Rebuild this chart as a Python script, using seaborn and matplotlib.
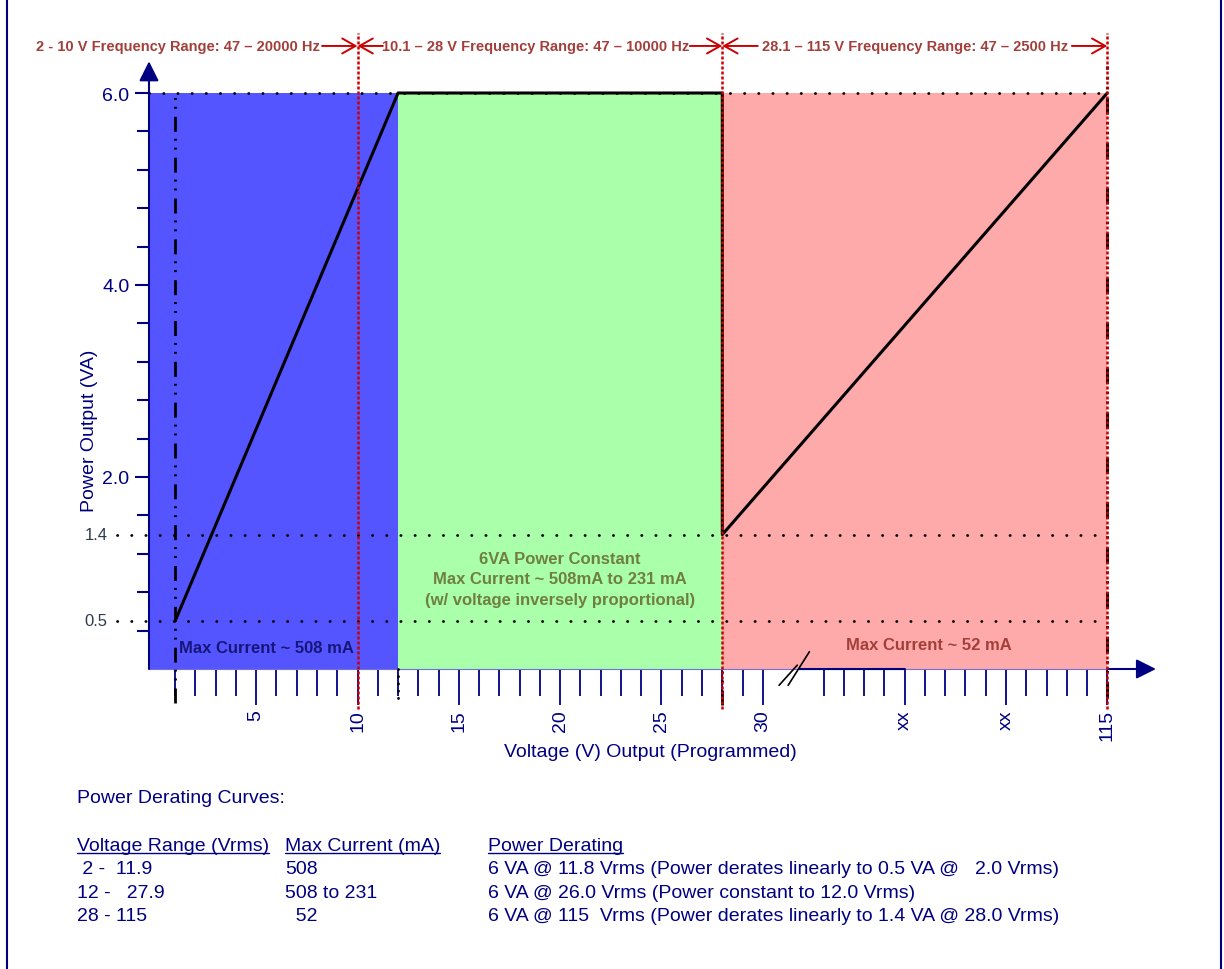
"""Power derating curves for the programmable AC output."""

import matplotlib.pyplot as plt
import numpy as np
import seaborn as sns
from matplotlib.lines import Line2D
from matplotlib.patches import Rectangle

sns.set_theme(style="white")
plt.rcParams["font.family"] = ["Liberation Sans", "DejaVu Sans"]

NAVY = "#000080"
BRICK = "#a33f3a"
RED = "#cc0000"

# derating curve: programmed voltage (V) vs available power (VA)
curve_volts = [1, 12, 28, 28, 115]
curve_va = [0.5, 6.0, 6.0, 1.4, 6.0]

# shaded operating regions
region_edges = [0, 12, 28, 115]
region_colors = ["#5555ff", "#aaffaa", "#ffaaaa"]
region_top = 6.0

# frequency range limits and header texts
range_limits = [10, 28, 115]
range_labels = [
    "2 - 10 V Frequency Range: 47 – 20000 Hz",
    "10.1 – 28 V Frequency Range: 47 – 10000 Hz",
    "28.1 – 115 V Frequency Range: 47 – 2500 Hz",
]

ref_levels = [6.0, 1.4, 0.5]
side_labels = ["1.4", "0.5"]

# broken x axis: real volts up to 30, then a compressed part up to 115
axis_volts = [0, 30, 115]
axis_pos = [0, 30, 47]
xtick_pos = [5, 10, 15, 20, 25, 30, 37, 42, 47]
xtick_labels = ["5", "10", "15", "20", "25", "30", "xx", "xx", "115"]
xminor_pos = [p for p in range(1, 30) if p % 5] + [p for p in range(33, 47) if p not in (37, 42)]
ytick_pos = [2.0, 4.0, 6.0]
ytick_labels = ["2.0", "4.0", "6.0"]
yminor_pos = [round(0.4 * k, 1) for k in range(1, 15) if k % 5]

# derating table
table_headers = ["Voltage Range (Vrms)", "Max Current (mA)", "Power Derating"]
voltage_ranges = [" 2 -  11.9", "12 -   27.9", "28 - 115"]
max_currents = ["508", "508 to 231", "  52"]
derating_notes = [
    "6 VA @ 11.8 Vrms (Power derates linearly to 0.5 VA @   2.0 Vrms)",
    "6 VA @ 26.0 Vrms (Power constant to 12.0 Vrms)",
    "6 VA @ 115  Vrms (Power derates linearly to 1.4 VA @ 28.0 Vrms)",
]

X_LIM = (-0.29, 49.6)
Y_LIM = (0, 6.4)


def vpos(v):
    return np.interp(v, axis_volts, axis_pos)


def fy(py):
    return 1 - py / 970


fig = plt.figure(figsize=(12.24, 9.70), dpi=100)
ax = fig.add_axes([149 / 1224, 300 / 970, 1011 / 1224, 614.4 / 970])
x_lo = X_LIM[0]
edges = vpos(region_edges)
x_end = edges[-1]

# regions
for i, c in enumerate(region_colors):
    left = x_lo if i == 0 else edges[i]
    ax.fill_between([left, edges[i + 1]], 0, region_top, color=c, linewidth=0, zorder=1)

# dotted reference levels
lead_x = x_lo - 1.6
for lvl in ref_levels:
    start = x_lo if lvl == region_top else lead_x
    ax.plot([start, x_end], [lvl, lvl], color="black", lw=2, ls=(0, (0.1, 5)),
            dash_capstyle="round", clip_on=False, zorder=3)
for lvl, lab in zip(ref_levels[1:], side_labels):
    ax.text(lead_x - 0.45, lvl, lab, ha="right", va="center", fontsize=12, color="#2f3a4f")

# dash-dot guides
dashdot = (0, (5.4, 2.9, 0.7, 2.5, 0.7, 2.5))
ax.plot([vpos(curve_volts[0])] * 2, [-0.35, region_top], color="black", lw=2, ls=dashdot, clip_on=False, zorder=3)
ax.plot([x_end] * 2, [-0.3, 6.28], color="black", lw=2.2, ls=dashdot, clip_on=False, zorder=3)
ax.plot([edges[1]] * 2, [-0.3, 0], color="black", lw=2, ls=(0, (0.1, 2.5)),
        dash_capstyle="round", clip_on=False, zorder=3)
ax.plot([edges[2]] * 2, [-0.38, 0], color="black", lw=2, ls=dashdot, clip_on=False, zorder=3)

# derating curve
sns.lineplot(x=vpos(curve_volts), y=curve_va, sort=False, estimator=None,
             color="black", linewidth=2.2, ax=ax, zorder=4)

# frequency range limits
lim = vpos(range_limits)
for x in lim:
    ax.plot([x, x], [-0.42, 6.62], color=RED, lw=1.8, ls=(0, (1.2, 0.8)), clip_on=False, zorder=5)

y_head = 6.49
head_kw = dict(color=BRICK, fontsize=10.5, fontweight="bold", va="center")
arrow = dict(arrowstyle="->,head_length=0.8,head_width=0.45", color=RED, lw=1.4, shrinkA=0, shrinkB=0)
ax.text(lim[0] - 1.85, y_head, range_labels[0], ha="right", **head_kw)
ax.text((lim[0] + lim[1]) / 2 - 0.2, y_head, range_labels[1], ha="center", **head_kw)
ax.text((lim[1] + lim[2]) / 2, y_head, range_labels[2], ha="center", **head_kw)
for tip, tail in [(lim[0], lim[0] - 1.75), (lim[0], lim[0] + 1.25), (lim[1], lim[1] - 1.6),
                  (lim[1], lim[1] + 1.75), (lim[2], lim[2] - 1.75)]:
    ax.annotate("", xy=(tip, y_head), xytext=(tail, y_head), arrowprops=arrow, annotation_clip=False)

# region notes
ax.text(1.2, 0.22, "Max Current ~ 508 mA", color="#16167a", fontsize=12, fontweight="bold", va="center")
ax.text((edges[1] + edges[2]) / 2, 0.9375,
        "6VA Power Constant\nMax Current ~ 508mA to 231 mA\n(w/ voltage inversely proportional)",
        ha="center", va="center", multialignment="center", linespacing=1.45,
        color="#6f7f40", fontsize=12, fontweight="bold")
ax.text(38.2, 0.26, "Max Current ~ 52 mA", ha="center", va="center", color=BRICK,
        fontsize=12, fontweight="bold")

# axes lines with arrows and axis break
for s in ax.spines.values():
    s.set_visible(False)
ax.plot([x_lo, x_end], [0, 0], color="#7070d8", lw=0.8, clip_on=False, zorder=2)
ax.plot([31.8, xtick_pos[6]], [0, 0], color=NAVY, lw=1.5, clip_on=False, zorder=2)
ax.plot([30.8, 31.7], [-0.17, 0.04], color="black", lw=1.2, clip_on=False, zorder=3)
ax.plot([31.25, 32.3], [-0.17, 0.18], color="black", lw=1.2, clip_on=False, zorder=3)
axis_arrow = dict(arrowstyle="-|>,head_length=1.0,head_width=0.5", color=NAVY, lw=1.5, shrinkA=0, shrinkB=0)
ax.annotate("", xy=(49.4, 0), xytext=(x_end, 0), arrowprops=axis_arrow, annotation_clip=False)
ax.annotate("", xy=(x_lo, 6.33), xytext=(x_lo, 0), arrowprops=axis_arrow, annotation_clip=False)

# ticks
ax.set_xticks(xtick_pos, xtick_labels)
ax.set_xticks(xminor_pos, minor=True)
ax.set_yticks(ytick_pos, ytick_labels)
ax.set_yticks(yminor_pos, minor=True)
ax.tick_params(axis="x", which="major", bottom=True, length=26, width=1.3, color=NAVY,
               labelcolor=NAVY, labelsize=14, labelrotation=90, pad=3)
ax.tick_params(axis="x", which="minor", bottom=True, length=19.5, width=1.3, color=NAVY)
ax.tick_params(axis="y", which="major", left=True, length=10, width=1.5, color=NAVY,
               labelcolor=NAVY, labelsize=14, pad=4)
ax.tick_params(axis="y", which="minor", left=True, length=9, width=1.5, color=NAVY)
ax.grid(False)

ax.set_xlabel("Voltage (V) Output (Programmed)", fontsize=14, color=NAVY, va="center")
ax.xaxis.set_label_coords(0.4955, -0.135)
ax.set_ylabel("Power Output (VA)", fontsize=14, color=NAVY, va="center")
ax.yaxis.set_label_coords(-0.059, 0.39)
ax.set_xlim(*X_LIM)
ax.set_ylim(*Y_LIM)

# derating table below the chart
txt_kw = dict(fontsize=14, color=NAVY, va="baseline")
col_x = [77, 285, 488]
fig.text(col_x[0] / 1224, fy(803), "Power Derating Curves:", **txt_kw)
header_artists = [fig.text(x / 1224, fy(851), h, **txt_kw) for x, h in zip(col_x, table_headers)]
for i, row in enumerate(zip(voltage_ranges, max_currents, derating_notes)):
    for x, cell in zip(col_x, row):
        fig.text(x / 1224, fy(874 + 23.5 * i), cell, **txt_kw)

fig.canvas.draw()
renderer = fig.canvas.get_renderer()
for t in header_artists:
    bb = t.get_window_extent(renderer).transformed(fig.transFigure.inverted())
    fig.add_artist(Line2D([bb.x0, bb.x1], [fy(853.5)] * 2, transform=fig.transFigure, color=NAVY, lw=1))

# page frame (top edge lies outside the crop)
fig.add_artist(Rectangle((7 / 1224, -0.05), 1214 / 1224, 1.1, transform=fig.transFigure,
                         fill=False, edgecolor=NAVY, lw=1.5))

fig.savefig("out.png", dpi=100)
plt.close(fig)
